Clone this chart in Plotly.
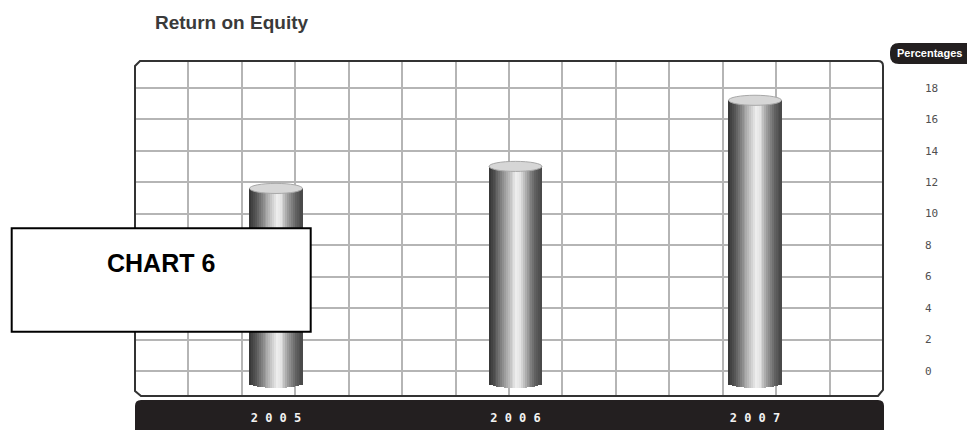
import math
import plotly.graph_objects as go

# ---- data -------------------------------------------------------------
years = ["2005", "2006", "2007"]
roe_pct = [11.6, 13.0, 17.2]
y_ticks = [0, 2, 4, 6, 8, 10, 12, 14, 16, 18]

# ---- page geometry (pixels) ------------------------------------------
W_PX, H_PX = 967, 430
L, R, T, B = 135, 883, 61, 397          # plot frame edges


def fx(x):
    return (x - L) / (R - L)


def fy(y):
    return (B - y) / (B - T)


def path(points, close=True):
    parts = []
    for cmd, *xy in points:
        coords = " ".join(f"{fx(xy[i]):.5f},{fy(xy[i + 1]):.5f}" for i in range(0, len(xy), 2))
        parts.append(f"{cmd}{coords}")
    return " ".join(parts) + (" Z" if close else "")


# ---- cylinder rendering ------------------------------------------------
BAR_W = 0.221          # bar width in category units
N_SLICES = 28
BODY_BASE = -0.78      # centre of the rounded bottom
BOTTOM_H = 0.30        # half height of bottom ellipse
CAP_H = 0.32           # half height of top ellipse

shade_stops = [(0.0, 52), (0.12, 85), (0.35, 175), (0.52, 238), (0.6, 225),
               (0.72, 160), (0.88, 95), (1.0, 70)]


def shade(t):
    for (t0, c0), (t1, c1) in zip(shade_stops, shade_stops[1:]):
        if t0 <= t <= t1:
            c = c0 + (c1 - c0) * (t - t0) / (t1 - t0)
            c = int(round(c))
            return f"rgb({c},{c},{c})"
    return "rgb(70,70,70)"


fig = go.Figure()

# empty trace so the grid axis owns a subplot of its own
fig.add_trace(go.Scatter(x=[], y=[], xaxis="x2", yaxis="y", mode="markers",
                         hoverinfo="skip", showlegend=False))

sw = BAR_W / N_SLICES
for k in range(N_SLICES):
    t = (k + 0.5) / N_SLICES
    u = 2 * t - 1
    base_k = BODY_BASE - BOTTOM_H * math.sqrt(max(0.0, 1 - u * u))
    fig.add_trace(go.Bar(
        x=years,
        y=[v - base_k for v in roe_pct],
        base=base_k,
        width=sw * 1.15,
        offset=-BAR_W / 2 + k * sw - sw * 0.075,
        marker=dict(color=shade(t), line=dict(width=0)),
        xaxis="x", yaxis="y",
        hoverinfo="skip",
        showlegend=False,
    ))

shapes = []
annotations = []

# top caps of the cylinders
for i, v in enumerate(roe_pct):
    shapes.append(dict(
        type="circle", xref="x", yref="y",
        x0=i - BAR_W / 2, x1=i + BAR_W / 2, y0=v - CAP_H, y1=v + CAP_H,
        fillcolor="#d6d6d6", line=dict(color="#a8a8a8", width=1), layer="above",
    ))
    annotations.append(dict(
        x=years[i], y=v, xref="x", yref="y", text=f"{v:.1f}%",
        showarrow=False, yshift=16, yanchor="middle",
        font=dict(family="DejaVu Sans Mono", size=11, color="#444444"),
    ))

# plot frame with bevelled corners
shapes.append(dict(
    type="path", xref="paper", yref="paper", layer="above",
    path=path([("M", 135, 66), ("L", 140, 61), ("L", 878, 61), ("Q", 883, 61, 883, 66),
               ("L", 883, 390), ("L", 878, 396), ("L", 141, 396), ("L", 135, 391)]),
    line=dict(color="#333333", width=2),
))

# dark category band below the frame
shapes.append(dict(
    type="path", xref="paper", yref="paper", layer="below",
    path=path([("M", 135, 432), ("L", 135, 406), ("Q", 135, 400, 141, 400), ("L", 878, 400),
               ("Q", 884, 400, 884, 406), ("L", 884, 432)]),
    fillcolor="#231f20", line=dict(width=0),
))

# unit badge at the top right
shapes.append(dict(
    type="path", xref="paper", yref="paper", layer="above",
    path=path([("M", 970, 43), ("L", 899, 43), ("Q", 890, 43, 890, 52), ("L", 890, 55),
               ("Q", 890, 64, 899, 64), ("L", 970, 64)]),
    fillcolor="#231f20", line=dict(width=0),
))
annotations.append(dict(
    x=fx(930), y=fy(53.5), xref="paper", yref="paper", text="<b>Percentages</b>",
    showarrow=False, xanchor="center", yanchor="middle",
    font=dict(family="Liberation Sans Narrow, Liberation Sans", size=11, color="white"),
))

# chart caption box
shapes.append(dict(
    type="rect", xref="paper", yref="paper", layer="above",
    x0=fx(11.7), x1=fx(310.7), y0=fy(331.7), y1=fy(228.3),
    fillcolor="white", line=dict(color="black", width=2),
))
annotations.append(dict(
    x=fx(161.3), y=fy(262.8), xref="paper", yref="paper", text="<b>CHART 6</b>",
    showarrow=False, xanchor="center", yanchor="middle",
    font=dict(family="Liberation Sans, Arial", size=25, color="black"),
))

# chart title
annotations.append(dict(
    x=fx(231), y=fy(23), xref="paper", yref="paper", text="<b>Return on Equity</b>",
    showarrow=False, xanchor="center", yanchor="middle",
    font=dict(family="Liberation Sans, Arial", size=19, color="#3a3a3a"),
))

grid_color = "#b5b5b5"
cat_scale = (755 - 276) / 2.0

fig.update_layout(
    template="none",
    width=W_PX, height=H_PX,
    margin=dict(l=L, r=W_PX - R, t=T, b=H_PX - B, pad=0),
    paper_bgcolor="white", plot_bgcolor="white",
    barmode="overlay", bargap=0,
    showlegend=False,
    shapes=shapes, annotations=annotations,
    xaxis=dict(
        type="category",
        range=[(L - 276) / cat_scale, 2 + (R - 755) / cat_scale],
        showgrid=False, zeroline=False, showline=False, ticks="",
        tickmode="array", tickvals=years, ticktext=[" ".join(y) for y in years],
        ticklabelstandoff=12, automargin=False, fixedrange=True,
        tickfont=dict(family="DejaVu Sans Mono", size=12, color="#f2f2f2", weight="bold"),
    ),
    xaxis2=dict(
        type="linear", overlaying="x", side="bottom", anchor="y",
        range=[0, 14], tickmode="linear", dtick=1, tick0=0,
        showgrid=True, gridcolor=grid_color, gridwidth=2,
        showticklabels=False, zeroline=False, showline=False, ticks="",
        automargin=False, fixedrange=True,
    ),
    yaxis=dict(
        type="linear",
        range=[-(B - 371) / ((371 - 87.7) / 18), 18 + (87.7 - T) / ((371 - 87.7) / 18)],
        tickmode="array", tickvals=y_ticks, side="right",
        showgrid=True, gridcolor=grid_color, gridwidth=2,
        zeroline=False, showline=False, ticks="",
        ticklabelstandoff=41, automargin=False, fixedrange=True,
        tickfont=dict(family="DejaVu Sans Mono", size=11, color="#505050"),
    ),
)

fig.write_html("out.html")
